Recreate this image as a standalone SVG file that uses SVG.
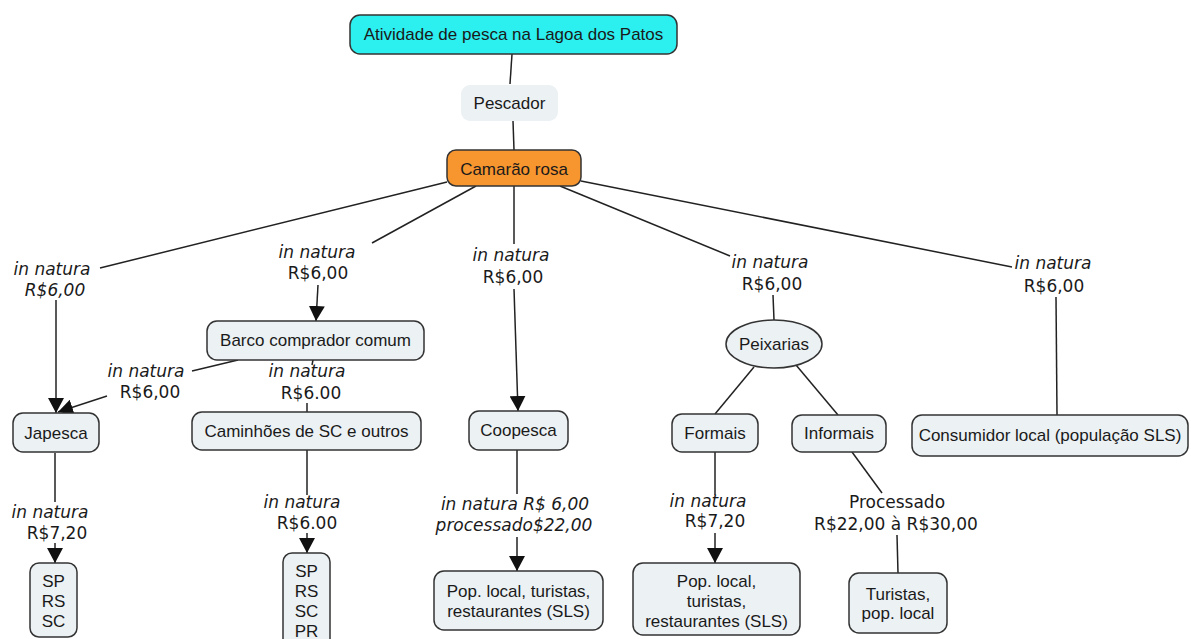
<svg xmlns="http://www.w3.org/2000/svg" width="1191" height="639" viewBox="0 0 1191 639">
  <defs>
    <marker id="arrow" markerUnits="userSpaceOnUse" markerWidth="16" markerHeight="16" refX="15" refY="8" orient="auto">
      <path d="M0,0 L15,8 L0,16 z" fill="#111"/>
    </marker>
    <style>
      .node { fill: #ECF1F4; stroke: #333; stroke-width: 1.5; }
      .ntext { font-family: "Liberation Sans", Arial, sans-serif; font-size: 17px; fill: #1a1a1a; text-anchor: middle; }
      .lbl { font-family: "DejaVu Sans", Verdana, sans-serif; font-size: 17px; fill: #1a1a1a; text-anchor: middle; }
      .it { font-style: italic; }
      .conn line { stroke: #222; stroke-width: 1.5; fill: none; }
      .conn .arr { marker-end: url(#arrow); }
    </style>
  </defs>
  <rect width="1191" height="639" fill="#ffffff"/>

  <!-- connectors -->
  <g id="connectors" class="conn">
    <line x1="512" y1="54" x2="510" y2="84"/>
    <line x1="513" y1="121" x2="514" y2="150"/>
    <!-- Camarão rosa to the five sale routes -->
    <line x1="447" y1="182" x2="100" y2="268"/>
    <line class="arr" x1="56" y1="300" x2="56" y2="413"/>
    <line x1="476" y1="186" x2="372" y2="243"/>
    <line class="arr" x1="318" y1="285" x2="316" y2="321"/>
    <line x1="514" y1="186" x2="514" y2="244"/>
    <line class="arr" x1="514" y1="289" x2="518" y2="411"/>
    <line x1="560" y1="186" x2="730" y2="256"/>
    <line x1="773" y1="295" x2="774" y2="320"/>
    <line x1="581" y1="181" x2="1012" y2="267"/>
    <line x1="1056" y1="297" x2="1057" y2="415"/>
    <!-- Barco comprador comum -->
    <line x1="238" y1="360" x2="192" y2="371"/>
    <line class="arr" x1="107" y1="396" x2="58" y2="412"/>
    <line x1="313" y1="360" x2="312" y2="365"/>
    <line x1="307" y1="403" x2="307" y2="412"/>
    <!-- Japesca / Caminhões -->
    <line x1="55" y1="453" x2="55" y2="502"/>
    <line class="arr" x1="55" y1="543" x2="55" y2="563"/>
    <line x1="307" y1="450" x2="307" y2="495"/>
    <line class="arr" x1="307" y1="533" x2="307" y2="553"/>
    <!-- Coopesca -->
    <line x1="517" y1="450" x2="517" y2="494"/>
    <line class="arr" x1="517" y1="537" x2="517" y2="571"/>
    <!-- Peixarias -->
    <line x1="754" y1="367" x2="715" y2="414"/>
    <line x1="796" y1="365" x2="838" y2="415"/>
    <line x1="715" y1="452" x2="715" y2="495"/>
    <line class="arr" x1="715" y1="533" x2="715" y2="563"/>
    <line x1="852" y1="452" x2="882" y2="493"/>
    <line x1="897" y1="535" x2="898" y2="573"/>
  </g>

  <!-- connector labels -->
  <g id="labels">
    <text class="lbl it" x="52" y="275">in natura</text>
    <text class="lbl it" x="55" y="296">R$6,00</text>
    <text class="lbl it" x="317" y="258">in natura</text>
    <text class="lbl" x="318" y="279">R$6,00</text>
    <text class="lbl it" x="511" y="261">in natura</text>
    <text class="lbl" x="513" y="283">R$6,00</text>
    <text class="lbl it" x="770" y="268">in natura</text>
    <text class="lbl" x="772" y="290">R$6,00</text>
    <text class="lbl it" x="1053" y="269">in natura</text>
    <text class="lbl" x="1054" y="292">R$6,00</text>
    <text class="lbl it" x="146" y="377">in natura</text>
    <text class="lbl" x="150" y="398">R$6,00</text>
    <text class="lbl it" x="307" y="377">in natura</text>
    <text class="lbl" x="311" y="399">R$6.00</text>
    <text class="lbl it" x="50" y="518">in natura</text>
    <text class="lbl" x="57" y="539">R$7,20</text>
    <text class="lbl it" x="302" y="508">in natura</text>
    <text class="lbl" x="307" y="529">R$6.00</text>
    <text class="lbl it" x="515" y="510">in natura R$ 6,00</text>
    <text class="lbl it" x="514" y="531">processado$22,00</text>
    <text class="lbl it" x="708" y="507">in natura</text>
    <text class="lbl" x="715" y="527">R$7,20</text>
    <text class="lbl" x="897" y="508">Processado</text>
    <text class="lbl" x="896" y="530">R$22,00 à R$30,00</text>
  </g>

  <!-- nodes -->
  <g id="n-atividade">
    <rect x="350" y="15" width="327" height="39" rx="10" fill="#2CEFEF" stroke="#333" stroke-width="1.5"/>
    <text class="ntext" x="513.5" y="40">Atividade de pesca na Lagoa dos Patos</text>
  </g>
  <g id="n-pescador">
    <rect x="461" y="85" width="97" height="36" rx="9" fill="#ECF1F4"/>
    <text class="ntext" x="509.5" y="109">Pescador</text>
  </g>
  <g id="n-camarao">
    <rect x="447" y="150" width="134" height="36" rx="9" fill="#F7952F" stroke="#333" stroke-width="1.5"/>
    <text class="ntext" x="514" y="175">Camarão rosa</text>
  </g>
  <g id="n-barco">
    <rect class="node" x="207" y="321" width="217" height="39" rx="10"/>
    <text class="ntext" x="315.5" y="346">Barco comprador comum</text>
  </g>
  <g id="n-japesca">
    <rect class="node" x="13" y="413" width="86" height="39" rx="10"/>
    <text class="ntext" x="56" y="439">Japesca</text>
  </g>
  <g id="n-caminhoes">
    <rect class="node" x="192" y="412" width="229" height="38" rx="10"/>
    <text class="ntext" x="306.5" y="437">Caminhões de SC e outros</text>
  </g>
  <g id="n-coopesca">
    <rect class="node" x="469" y="411" width="99" height="39" rx="10"/>
    <text class="ntext" x="518.5" y="436">Coopesca</text>
  </g>
  <g id="n-peixarias">
    <ellipse class="node" cx="774" cy="344" rx="48" ry="24"/>
    <text class="ntext" x="774" y="350">Peixarias</text>
  </g>
  <g id="n-formais">
    <rect class="node" x="672" y="414" width="86" height="38" rx="10"/>
    <text class="ntext" x="715" y="439">Formais</text>
  </g>
  <g id="n-informais">
    <rect class="node" x="792" y="415" width="94" height="37" rx="10"/>
    <text class="ntext" x="839" y="439">Informais</text>
  </g>
  <g id="n-consumidor">
    <rect class="node" x="912" y="415" width="276" height="41" rx="10"/>
    <text class="ntext" x="1050" y="441">Consumidor local (população SLS)</text>
  </g>
  <g id="n-estados-japesca">
    <rect class="node" x="30" y="563" width="47" height="74" rx="9"/>
    <text class="ntext" x="53.5" y="587">SP</text>
    <text class="ntext" x="53.5" y="607">RS</text>
    <text class="ntext" x="53.5" y="627">SC</text>
  </g>
  <g id="n-estados-caminhoes">
    <rect class="node" x="283" y="553" width="47" height="100" rx="9"/>
    <text class="ntext" x="306.5" y="577">SP</text>
    <text class="ntext" x="306.5" y="597">RS</text>
    <text class="ntext" x="306.5" y="617">SC</text>
    <text class="ntext" x="306.5" y="637">PR</text>
  </g>
  <g id="n-pop-coopesca">
    <rect class="node" x="434" y="571" width="169" height="59" rx="10"/>
    <text class="ntext" x="518.5" y="597">Pop. local, turistas,</text>
    <text class="ntext" x="518.5" y="617">restaurantes (SLS)</text>
  </g>
  <g id="n-pop-formais">
    <rect class="node" x="633" y="563" width="167" height="72" rx="10"/>
    <text class="ntext" x="716.5" y="587">Pop. local,</text>
    <text class="ntext" x="716.5" y="607">turistas,</text>
    <text class="ntext" x="716.5" y="627">restaurantes (SLS)</text>
  </g>
  <g id="n-turistas">
    <rect class="node" x="849" y="573" width="98" height="60" rx="10"/>
    <text class="ntext" x="898" y="600">Turistas,</text>
    <text class="ntext" x="898" y="619">pop. local</text>
  </g>
</svg>
